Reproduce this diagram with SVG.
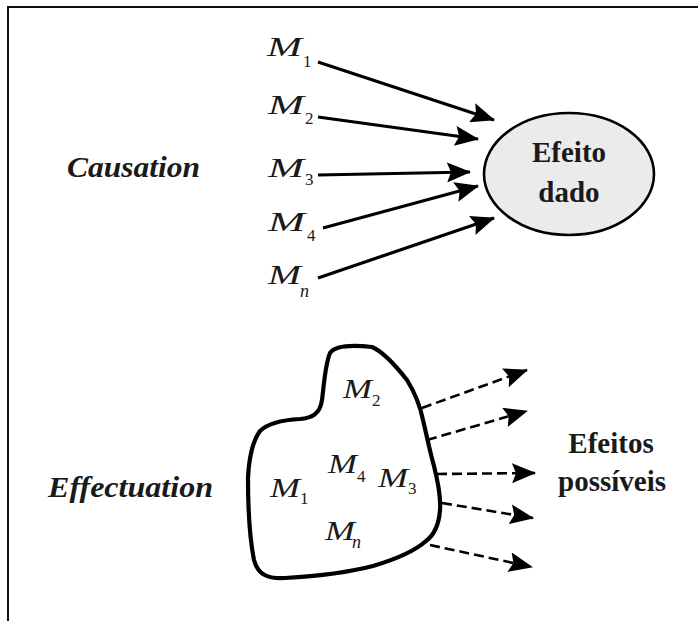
<svg xmlns="http://www.w3.org/2000/svg" width="698" height="621" viewBox="0 0 698 621">
<defs>
<style>
.frame{fill:none;stroke:#111;stroke-width:2}
.lbl{font-family:'Liberation Serif','DejaVu Serif',serif;font-weight:700;font-style:italic;font-size:29px;fill:#1a1a1a}
.bold{font-family:'Liberation Serif','DejaVu Serif',serif;font-weight:700;font-size:29px;fill:#1a1a1a;text-anchor:middle}
.m{font-family:'Liberation Serif','DejaVu Serif',serif;font-style:italic;font-size:27px;fill:#1a1a1a}
.sub{font-family:'Liberation Serif','DejaVu Serif',serif;font-size:17px;fill:#1a1a1a}
.subi{font-family:'Liberation Serif','DejaVu Serif',serif;font-style:italic;font-size:18px;fill:#1a1a1a}
.sol{fill:none;stroke:#000;stroke-width:3.2;marker-end:url(#ah)}
.dash{fill:none;stroke:#000;stroke-width:2.6;stroke-dasharray:10 5;marker-end:url(#ah)}
</style>
<marker id="ah" markerUnits="userSpaceOnUse" viewBox="0 0 24 20" refX="23" refY="10" markerWidth="24" markerHeight="20" orient="auto">
<path d="M0,0 L24,10 L0,20 L4,10 Z" fill="#000"/>
</marker>
</defs>
<rect width="698" height="621" fill="#fff"/>
<path class="frame" d="M8,621 L8,7 L698,7"/>

<g id="causation-label"><text class="lbl" x="67" y="177" textLength="133" lengthAdjust="spacingAndGlyphs">Causation</text></g>
<g id="effectuation-label"><text class="lbl" x="48" y="497" textLength="165" lengthAdjust="spacingAndGlyphs">Effectuation</text></g>

<g id="efeito-dado">
<ellipse cx="569" cy="174" rx="85" ry="61" fill="#ebebeb" stroke="#000" stroke-width="2.6"/>
<text class="bold" x="569" y="162">Efeito</text>
<text class="bold" x="569" y="202">dado</text>
</g>

<g id="c-m1"><text class="m" x="267" y="56" textLength="35" lengthAdjust="spacingAndGlyphs">M</text><text class="sub" x="303" y="67">1</text></g>
<g id="c-m2"><text class="m" x="268" y="114" textLength="36" lengthAdjust="spacingAndGlyphs">M</text><text class="sub" x="305" y="124">2</text></g>
<g id="c-m3"><text class="m" x="268" y="177" textLength="36" lengthAdjust="spacingAndGlyphs">M</text><text class="sub" x="305" y="185">3</text></g>
<g id="c-m4"><text class="m" x="268" y="231" textLength="37" lengthAdjust="spacingAndGlyphs">M</text><text class="sub" x="307" y="241">4</text></g>
<g id="c-mn"><text class="m" x="268" y="284" textLength="33" lengthAdjust="spacingAndGlyphs">M</text><text class="subi" x="300" y="297">n</text></g>

<g id="blob">
<path d="M330,353 C334,347 345,344 372,347 C384,352 396,366 407,380 C415,393 420,405 423,420 C427,437 430,452 434,466 C438,482 441,498 440,510 C439,524 434,535 426,541 C416,550 400,558 373,566 C350,572 320,576 285,578 C268,579 258,575 254,560 C250,540 248,505 248,478 C249,458 252,442 260,431 C268,423 282,420 300,419 C312,418 320,414 322,400 C324,385 325,365 330,353 Z" fill="#fff" stroke="#000" stroke-width="4.2" stroke-linejoin="round"/>
</g>

<g id="e-m2"><text class="m" x="343" y="398" textLength="29" lengthAdjust="spacingAndGlyphs">M</text><text class="sub" x="372" y="406">2</text></g>
<g id="e-m4"><text class="m" x="328" y="473" textLength="29" lengthAdjust="spacingAndGlyphs">M</text><text class="sub" x="357" y="482">4</text></g>
<g id="e-m3"><text class="m" x="378" y="487" textLength="30" lengthAdjust="spacingAndGlyphs">M</text><text class="sub" x="408" y="494">3</text></g>
<g id="e-m1"><text class="m" x="270" y="497" textLength="30" lengthAdjust="spacingAndGlyphs">M</text><text class="sub" x="300" y="504">1</text></g>
<g id="e-mn"><text class="m" x="325" y="540" textLength="30" lengthAdjust="spacingAndGlyphs">M</text><text class="subi" x="352" y="548">n</text></g>

<g id="efeitos-possiveis">
<text class="bold" x="611" y="453">Efeitos</text>
<text class="bold" x="612" y="491">possíveis</text>
</g>

<g id="connectors">
<line class="sol" x1="318" y1="62" x2="494" y2="120"/>
<line class="sol" x1="318" y1="117" x2="478" y2="139"/>
<line class="sol" x1="318" y1="175" x2="470" y2="172"/>
<line class="sol" x1="323" y1="228" x2="478" y2="186"/>
<line class="sol" x1="318" y1="278" x2="494" y2="218"/>
<line class="dash" x1="422" y1="408" x2="527" y2="370"/>
<line class="dash" x1="427" y1="440" x2="527" y2="411"/>
<line class="dash" x1="437" y1="474" x2="535" y2="473"/>
<line class="dash" x1="442" y1="503" x2="533" y2="518"/>
<line class="dash" x1="430" y1="545" x2="532" y2="567"/>
</g>
</svg>
